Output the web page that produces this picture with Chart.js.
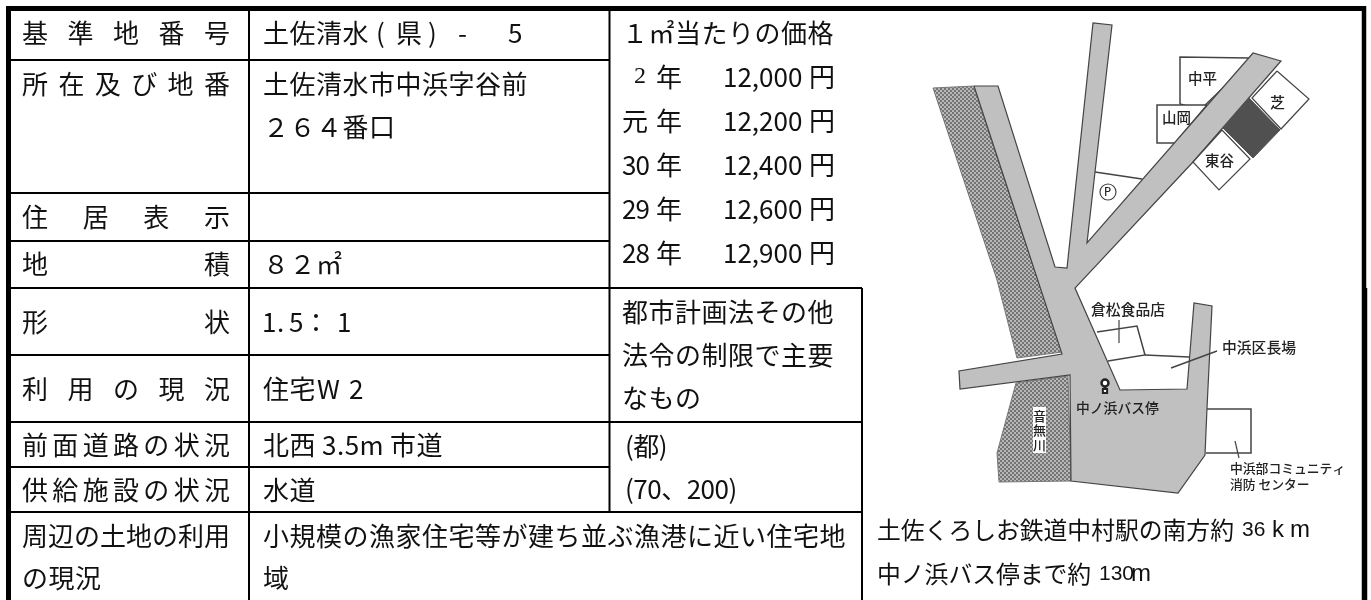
<!DOCTYPE html>
<html>
<head>
<meta charset="utf-8">
<script src="https://cdn.jsdelivr.net/npm/chart.js@4/dist/chart.umd.js"></script>
<style>
body { margin: 0; background: #fff; }
canvas { display: block; }
</style>
</head>
<body>
<canvas id="chart" width="1371" height="600"></canvas>
<script>
'use strict';

// land price table
const priceTitle = '１㎡当たりの価格';
const yearLabels = ['2', '元', '30', '29', '28'];
const priceValues = [12000, 12200, 12400, 12600, 12900];
const rowLabels = ['基準地番号', '所在及び地番', '住居表示', '地積', '形状', '利用の現況', '前面道路の状況', '供給施設の状況', '周辺の土地の利用'];
const valueTexts = ['土佐清水', '(', '県', ')', '-', '5', '土佐清水市中浜字谷前', '２６４番口', '８２㎡', '1', '.', '5', '：', '1', '住宅', 'W', '2', '北西', '3.5m', '市道', '水道', '小規模の漁家住宅等が建ち並ぶ漁港に近い住宅地', '域', 'の現況'];
const ruleTexts = ['都市計画法その他', '法令の制限で主要', 'なもの', '(都)', '(70、200)'];
const captionTexts = ['土佐くろしお鉄道中村駅の南方約', '36', 'k', 'm', '中ノ浜バス停まで約', '130', 'm'];
const mapTexts = ['中平', '山岡', '東谷', '倉松食品店', '中浜区長場', '中ノ浜バス停', '中浜部コミュニティ', '消防 センター', 'P'];
const riverName = ['音', '無', '川'];

// where the texts sit, in the axis units of the page
const rowLabelY = [33, 84, 217, 264, 322, 389, 445, 490, 536];
const valueX = [263, 376, 396, 428, 458, 508, 263, 263, 263, 262, 277, 289, 303, 337, 263, 317, 349, 263, 322, 390, 263, 263, 263, 22];
const valueY = [33, 33, 33, 33, 33, 33, 84, 127, 264, 322, 322, 322, 322, 322, 389, 389, 389, 445, 445, 445, 490, 536, 578, 578];
const ruleY = [312, 355, 398, 446, 489];
const priceRowY = [77, 121, 165, 209, 253];
const captionX = [877, 1242, 1272, 1290, 877, 1099, 1131];
const captionY = [530, 530, 530, 530, 574, 574, 574];
const captionSize = [23.8, 21, 24, 24, 23.8, 21, 24];
const mapTextX = [1188, 1162, 1205, 1091, 1222, 1076, 1230, 1230, 1104];
const mapTextY = [78, 117, 160, 309, 347, 408, 468, 484, 192];
const mapTextSize = [14.5, 14.5, 14.5, 14.8, 14.8, 13.8, 12.8, 12.8, 11];
const riverY = [416, 430, 445];

// table rules
const gridLines = [
    { w: 5, pts: [[6, 8.5], [1364, 8.5]] },
    { w: 5, pts: [[8.5, 6], [8.5, 600]] },
    { w: 4.5, pts: [[1364, 6], [1364, 288]] },
    { w: 5.5, pts: [[1364.5, 288], [1364.5, 600]] },
    { w: 2, pts: [[249, 10], [249, 600]] },
    { w: 2, pts: [[609.5, 10], [609.5, 512]] },
    { w: 2, pts: [[862, 288], [862, 600]] },
    { w: 2, pts: [[11, 60], [609, 60]] },
    { w: 2, pts: [[11, 193], [609, 193]] },
    { w: 2, pts: [[11, 241], [609, 241]] },
    { w: 2, pts: [[11, 288], [862, 288]] },
    { w: 2, pts: [[11, 355], [609, 355]] },
    { w: 2, pts: [[11, 422], [862, 422]] },
    { w: 2, pts: [[11, 467], [609, 467]] },
    { w: 2, pts: [[11, 512], [862, 512]] }
];

// map outlines, painted in this order
const upperRiver = [[933, 88], [974, 86], [1062, 352], [1017, 358], [997, 280], [933, 88]];
const lowerRiver = [[1016, 383], [1068, 376], [1071, 481], [999, 482], [997, 453], [1016, 383]];
const nakahiraHouse = [[1180, 104], [1180, 57], [1249, 58], [1252, 60], [1200, 110], [1180, 104]];
const yamaokaHouse = [[1207, 105], [1157, 105], [1157, 143], [1175, 143], [1207, 105]];
const roads = [[974, 86], [998, 86], [1055, 267], [1067, 268], [1093, 23], [1112, 25], [1095, 172], [1087, 243], [1253, 53], [1281, 61], [1193, 162], [1075, 288], [1120, 390], [1187, 389], [1194, 303], [1212, 306], [1207, 408], [1205, 455], [1178, 493], [1071, 481], [1070, 375], [960, 389], [959, 371], [1062, 354], [974, 86]];
const shibaHouse = [[1277, 71], [1309, 99], [1281, 129], [1252, 98], [1277, 71]];
const targetLot = [[1249, 98], [1280, 130], [1253, 158], [1223, 128], [1249, 98]];
const higashitaniHouse = [[1222, 130], [1250, 159], [1219, 190], [1193, 162], [1222, 130]];
const communityHouse = [[1207, 409], [1251, 409], [1251, 453], [1206, 453]];
const parkingLine = [[1095, 172], [1142, 179]];
const shopOutline = [[1097, 332], [1137, 326], [1145, 355], [1108, 361]];
const shopRear = [[1145, 355], [1189, 357]];
const shopLeader = [[1119, 320], [1119, 343]];
const hallLeader = [[1171, 368], [1217, 351]];
const communityLeader = [[1235, 441], [1239, 458]];
const riverLabelBox = [[1033, 407], [1046, 407], [1046, 453], [1033, 453], [1033, 407]];
const busStopTop = [[1105, 383]];
const busStopStem = [[1105, 386], [1105, 393]];
const busStopFoot = [[1105, 391]];
const parkingMark = [[1108, 192]];

const mapInk = '#444';
const roadGray = '#c0c0c0';

function toPoints(pts) {
    return pts.map((p) => ({ x: p[0], y: p[1] }));
}

function makeRiverPattern() {
    const tile = document.createElement('canvas');
    tile.width = 4;
    tile.height = 4;
    const t = tile.getContext('2d');
    t.fillStyle = '#b8b8b8';
    t.fillRect(0, 0, 4, 4);
    t.fillStyle = '#747474';
    t.fillRect(0, 0, 2, 2);
    t.fillRect(2, 2, 2, 2);
    return t.createPattern(tile, 'repeat');
}

function lineSet(pts, width, color) {
    return { data: toPoints(pts), showLine: true, borderColor: color, borderWidth: width, pointRadius: 0, fill: false };
}

function shapeSet(pts, fillColor, width, color) {
    return { data: toPoints(pts), showLine: true, borderColor: color, borderWidth: width, pointRadius: 0, fill: 'shape', backgroundColor: fillColor };
}

function markSet(pts, style, radius, fillColor, color, width) {
    return { data: toPoints(pts), showLine: false, pointStyle: style, pointRadius: radius, pointBackgroundColor: fillColor, pointBorderColor: color, pointBorderWidth: width };
}

const riverPattern = makeRiverPattern();

const datasets = [
    shapeSet(upperRiver, riverPattern, 1, '#777'),
    shapeSet(lowerRiver, riverPattern, 1, '#777'),
    shapeSet(nakahiraHouse, '#fff', 1.5, mapInk),
    shapeSet(yamaokaHouse, '#fff', 1.5, mapInk),
    shapeSet(roads, roadGray, 1.2, mapInk),
    shapeSet(shibaHouse, '#fff', 1.2, mapInk),
    shapeSet(higashitaniHouse, '#fff', 1.2, mapInk),
    shapeSet(targetLot, '#505050', 1, '#505050'),
    lineSet(communityHouse, 1.5, mapInk),
    lineSet(parkingLine, 1.5, mapInk),
    lineSet(shopOutline, 1.5, mapInk),
    lineSet(shopRear, 1.5, mapInk),
    lineSet(shopLeader, 1.2, mapInk),
    lineSet(hallLeader, 1.5, mapInk),
    lineSet(communityLeader, 1.2, mapInk),
    shapeSet(riverLabelBox, '#fff', 0, '#fff'),
    lineSet(busStopStem, 3, '#222'),
    markSet(busStopTop, 'circle', 3.5, '#fff', '#222', 2.5),
    markSet(busStopFoot, 'rect', 3, '#fff', '#222', 2),
    markSet(parkingMark, 'circle', 8, '#fff', mapInk, 1.2)
];

for (const g of gridLines) {
    datasets.push(lineSet(g.pts, g.w, '#000'));
}

// later entries go on top
datasets.forEach((d, i) => { d.order = datasets.length - i; });

const textPlugin = {
    id: 'pageText',
    afterDatasetsDraw(chart) {
        const ctx = chart.ctx;
        const xs = chart.scales.x;
        const ys = chart.scales.y;

        function put(str, x, y, size, spacing, family, weight) {
            ctx.font = (weight || '400') + ' ' + size + 'px ' + (family || '"Noto Sans CJK JP"');
            ctx.letterSpacing = (spacing || 0) + 'px';
            ctx.fillText(str, xs.getPixelForValue(x), ys.getPixelForValue(y));
        }

        ctx.save();
        ctx.fillStyle = '#111';
        ctx.textBaseline = 'middle';
        ctx.textAlign = 'left';

        // left column, spread out over the cell width
        rowLabels.forEach((label, i) => {
            const n = label.length;
            put(label, 22, rowLabelY[i], 26, (208 - n * 26) / (n - 1));
        });

        valueTexts.forEach((t, i) => {
            put(t, valueX[i], valueY[i], 26, 0.5);
        });

        put(priceTitle, 622, 33, 26, 0.5);
        yearLabels.forEach((y, i) => {
            if (y == '2') {
                put(y, 634, priceRowY[i], 24, 0, '"Liberation Sans Narrow"');
            } else {
                put(y, 622, priceRowY[i], 26, -1);
            }
            put('年', 656, priceRowY[i], 26);
            put(priceValues[i].toLocaleString('en-US'), 723, priceRowY[i], 26, 0);
            put('円', 809, priceRowY[i], 26);
        });

        ruleTexts.forEach((t, i) => {
            put(t, i < 3 ? 622 : 625, ruleY[i], 26, i < 3 ? 0.5 : -0.5);
        });

        captionTexts.forEach((t, i) => {
            const isKanji = t.length > 3;
            put(t, captionX[i], captionY[i], captionSize[i], 0, isKanji ? null : '"Liberation Sans"');
        });

        ctx.fillStyle = '#222';
        mapTexts.forEach((t, i) => {
            put(t, mapTextX[i], mapTextY[i], mapTextSize[i], 0, null, '500');
        });
        riverName.forEach((t, i) => {
            put(t, 1033, riverY[i], 13, 0, null, '500');
        });
        put('芝', 1270, 102, 15, 0, null, '500');
        ctx.restore();
    }
};

new Chart(document.getElementById('chart').getContext('2d'), {
    type: 'scatter',
    data: { datasets: datasets },
    options: {
        responsive: false,
        animation: false,
        layout: { padding: 0, autoPadding: false },
        elements: { line: { tension: 0, borderCapStyle: 'butt', borderJoinStyle: 'miter' } },
        plugins: { legend: { display: false }, tooltip: { enabled: false } },
        scales: {
            x: { type: 'linear', min: 0, max: 1371, display: false },
            y: { type: 'linear', min: 0, max: 600, reverse: true, display: false }
        }
    },
    plugins: [textPlugin]
});
</script>
</body>
</html>
